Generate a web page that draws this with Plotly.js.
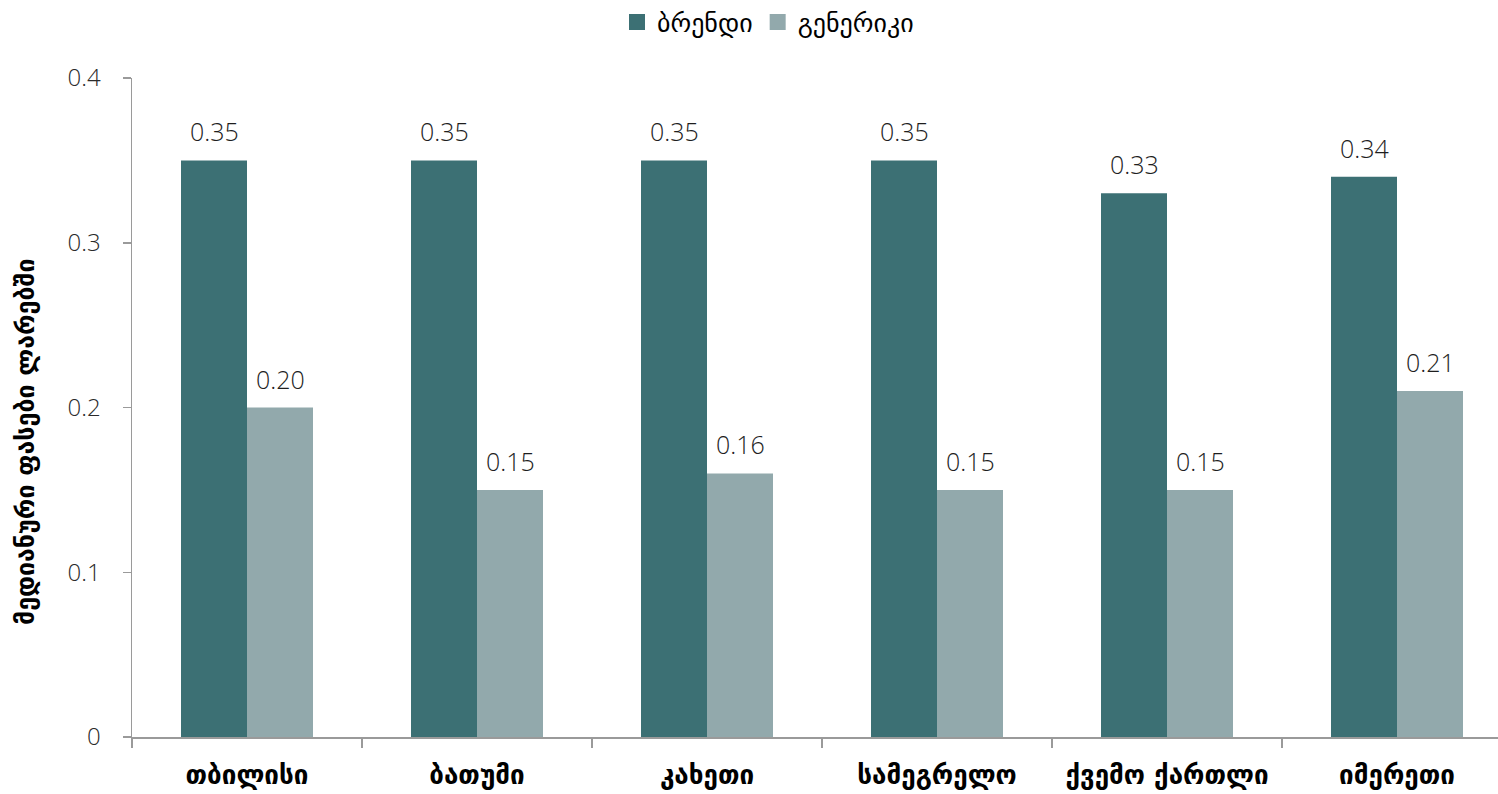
<!DOCTYPE html>
<html>
<head>
<meta charset="utf-8">
<script src="https://cdn.plot.ly/plotly-3.0.1.min.js"></script>
<style>
  html, body { margin: 0; padding: 0; background: #ffffff; }
  #chart { width: 1498px; height: 794px; }
</style>
</head>
<body>
<div id="chart"></div>
<script>
// Regions
const regions = ['თბილისი', 'ბათუმი', 'კახეთი', 'სამეგრელო', 'ქვემო ქართლი', 'იმერეთი'];

// Median prices (GEL)
const brandValues = [0.35, 0.35, 0.35, 0.35, 0.33, 0.34];
const genericValues = [0.20, 0.15, 0.16, 0.15, 0.15, 0.21];

const seriesNames = ['ბრენდი', 'გენერიკი'];
const yTitle = 'მედიანური ფასები ლარებში';

const yTickVals = [0, 0.1, 0.2, 0.3, 0.4];
const yTickText = ['0', '0.1', '0.2', '0.3', '0.4'];

const colBrand = '#3c7074';
const colGeneric = '#92a9ac';

const numFont = { family: 'Open Sans, DejaVu Sans, sans-serif', size: 25, color: '#1e1e1e', weight: 300 };
const legendFont = { family: 'DejaVu Sans, sans-serif', size: 26, color: '#000000' };
const catFont = { family: 'DejaVu Sans, sans-serif', size: 26, color: '#000000', weight: 700 };
const titleFont = { family: 'DejaVu Sans, sans-serif', size: 25, color: '#000000', weight: 700 };

// category spacing in pixels and plot extent
const plotLeft = 132, plotRight = 1498, plotTop = 78, plotBottom = 737;
const catWidth = 230, barPx = 66;
const xMax = -0.5 + (plotRight - plotLeft) / catWidth;
const half = barPx / catWidth / 2;

const traces = [
  {
    type: 'bar', name: seriesNames[0], x: regions, y: brandValues,
    marker: { color: colBrand }, offsetgroup: 'a', showlegend: false
  },
  {
    type: 'bar', name: seriesNames[1], x: regions, y: genericValues,
    marker: { color: colGeneric }, offsetgroup: 'b', showlegend: false
  },
  // legend entries with larger square swatches
  {
    type: 'scatter', mode: 'markers', name: seriesNames[0], x: [regions[0]], y: [null],
    marker: { symbol: 'square', size: 18, color: colBrand }
  },
  {
    type: 'scatter', mode: 'markers', name: seriesNames[1], x: [regions[0]], y: [null],
    marker: { symbol: 'square', size: 18, color: colGeneric }
  }
];

// value labels above each bar
const annotations = [];
regions.forEach((r, i) => {
  annotations.push({
    x: i - half, y: brandValues[i], xref: 'x', yref: 'y',
    text: brandValues[i].toFixed(2), showarrow: false, yshift: 29,
    font: numFont
  });
  annotations.push({
    x: i + half, y: genericValues[i], xref: 'x', yref: 'y',
    text: genericValues[i].toFixed(2), showarrow: false, yshift: 29,
    font: numFont
  });
});

// vertical axis title
annotations.push({
  text: yTitle, textangle: -90, showarrow: false,
  xref: 'paper', yref: 'paper',
  x: (25 - plotLeft) / (plotRight - plotLeft), xanchor: 'center',
  y: (plotBottom - 442) / (plotBottom - plotTop), yanchor: 'middle',
  font: titleFont
});

const layout = {
  width: 1498, height: 794,
  margin: { l: plotLeft, r: 1498 - plotRight, t: plotTop, b: 794 - plotBottom, pad: 0 },
  paper_bgcolor: '#ffffff', plot_bgcolor: '#ffffff',
  barmode: 'group',
  bargap: 1 - (2 * barPx) / catWidth,
  bargroupgap: 0,
  showlegend: true,
  legend: {
    orientation: 'h', xref: 'container', yref: 'container',
    x: 768 / 1498, xanchor: 'center', y: 1 - 22 / 794, yanchor: 'middle',
    font: legendFont, traceorder: 'normal'
  },
  xaxis: {
    type: 'category', range: [-0.5, xMax],
    showline: true, linecolor: '#9a9a9a', linewidth: 1.5,
    ticks: 'outside', ticklen: 9, tickcolor: '#9a9a9a', tickwidth: 1.5,
    tickson: 'boundaries', showgrid: false, zeroline: false,
    tickfont: catFont, ticklabelstandoff: 14, automargin: false
  },
  yaxis: {
    range: [0, 0.4], tickvals: yTickVals, ticktext: yTickText,
    showline: true, linecolor: '#9a9a9a', linewidth: 1.5,
    ticks: 'outside', ticklen: 8, tickcolor: '#9a9a9a', tickwidth: 1.5,
    showgrid: false, zeroline: false,
    tickfont: { family: 'Open Sans, DejaVu Sans, sans-serif', size: 24, color: '#2a2a2a', weight: 300 },
    ticklabelstandoff: 17,
    automargin: false
  },
  annotations: annotations,
  font: { family: 'DejaVu Sans, sans-serif' }
};

Plotly.newPlot('chart', traces, layout, { displayModeBar: false, staticPlot: true });
</script>
</body>
</html>
